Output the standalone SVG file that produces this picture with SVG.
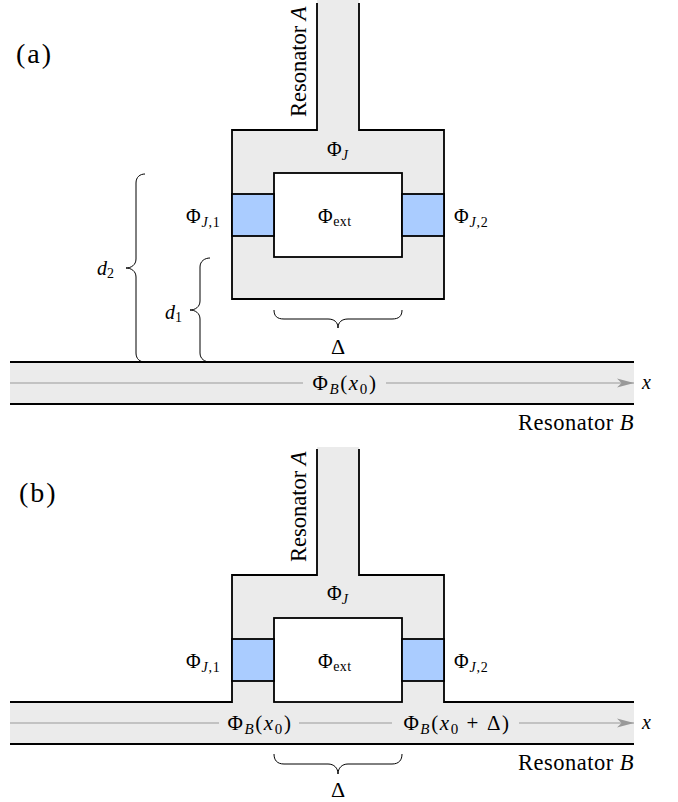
<svg xmlns="http://www.w3.org/2000/svg" width="678" height="802" viewBox="0 0 678 802">
<defs>
<style>
text{font-family:"Liberation Serif","DejaVu Serif",serif}
.t{font-size:20px;fill:#000}
.i{font-style:italic}
.s{font-size:14px}
.gray{fill:#ebebeb}
.ln{fill:none;stroke:#000;stroke-width:1.8}
.jj{fill:#aaccff;stroke:#000;stroke-width:1.8}
.wh{fill:#fff;stroke:#000;stroke-width:1.8}
.br{fill:none;stroke:#000;stroke-width:1}
.ax{stroke:#999;stroke-width:1.1;fill:none}
.big{font-size:28px;letter-spacing:2px}
.res{font-size:22.5px;letter-spacing:0.5px}
.fb{font-size:21px;letter-spacing:1.6px}
.fbs{font-size:15px}
.dl{font-size:22px}
</style>
<marker id="arr" markerUnits="userSpaceOnUse" viewBox="-18 -6 20 12" refX="0" refY="0" markerWidth="20" markerHeight="12" orient="auto">
<path d="M0,0 L-17,-4.5 L-12.5,0 L-17,4.5 Z" fill="#999"/>
</marker>
</defs>

<!-- Panel (a) -->
<g id="panel-a">
<g id="a-strip-B">
<rect class="gray" x="10" y="362" width="624" height="42"/>
<line class="ln" x1="10" y1="362" x2="634" y2="362"/>
<line class="ln" x1="10" y1="404" x2="634" y2="404"/>
</g>
<g id="a-resonator-A">
<path class="gray" d="M317,0 L359,0 L359,131 L317,131 Z"/>
<path class="gray" stroke="#000" stroke-width="1.8" d="M317,3 L317,130 L232,130 L232,299 L444,299 L444,130 L359,130 L359,3"/>
<text class="t res" style="letter-spacing:0" transform="translate(306,117) rotate(-90)">Resonator <tspan class="i">A</tspan></text>
</g>
<g id="a-loop">
<rect class="wh" x="274" y="173" width="128" height="84"/>
<rect class="jj" x="232" y="194" width="42" height="42"/>
<rect class="jj" x="402" y="194" width="42" height="42"/>
</g>
<g id="a-labels">
<text class="t" x="327" y="156">Φ<tspan class="s i" dy="4">J</tspan></text>
<text class="t" x="318" y="223" style="letter-spacing:0.5px">Φ<tspan class="s" dy="3">ext</tspan></text>
<text class="t" x="186" y="223" style="letter-spacing:0.8px">Φ<tspan class="s" dy="4"><tspan class="i">J</tspan>,1</tspan></text>
<text class="t" x="454" y="223" style="letter-spacing:0.8px">Φ<tspan class="s" dy="4"><tspan class="i">J</tspan>,2</tspan></text>
<text class="t big" x="16" y="63">(a)</text>
<text class="t" x="97" y="275"><tspan class="i">d</tspan><tspan class="s" dy="3">2</tspan></text>
<text class="t" x="165" y="319"><tspan class="i">d</tspan><tspan class="s" dy="3">1</tspan></text>
<text class="t dl" x="338" y="354" text-anchor="middle">Δ</text>
<text class="t res" x="634" y="430" text-anchor="end">Resonator <tspan class="i">B</tspan></text>
</g>
</g>

<!-- Panel (b) -->
<g id="panel-b">
<g id="b-strip-B">
<path class="gray" d="M317,447 L359,447 L359,575 L444,575 L444,702 L634,702 L634,744 L10,744 L10,702 L232,702 L232,575 L317,575 Z"/>
<path class="ln" d="M10,702 L232,702 L232,575 L317,575 L317,449"/>
<path class="ln" d="M634,702 L444,702 L444,575 L359,575 L359,449"/>
<line class="ln" x1="10" y1="744" x2="634" y2="744"/>
</g>
<g id="b-loop">
<rect class="wh" x="274" y="618" width="128" height="84"/>
<rect class="jj" x="232" y="639" width="42" height="42"/>
<rect class="jj" x="402" y="639" width="42" height="42"/>
</g>
<g id="b-labels">
<text class="t res" style="letter-spacing:0" transform="translate(306,562) rotate(-90)">Resonator <tspan class="i">A</tspan></text>
<text class="t" x="327" y="600">Φ<tspan class="s i" dy="4">J</tspan></text>
<text class="t" x="318" y="668" style="letter-spacing:0.5px">Φ<tspan class="s" dy="3">ext</tspan></text>
<text class="t" x="186" y="668" style="letter-spacing:0.8px">Φ<tspan class="s" dy="4"><tspan class="i">J</tspan>,1</tspan></text>
<text class="t" x="454" y="668" style="letter-spacing:0.8px">Φ<tspan class="s" dy="4"><tspan class="i">J</tspan>,2</tspan></text>
<text class="t big" x="19" y="502">(b)</text>
<text class="t dl" x="338" y="797" text-anchor="middle">Δ</text>
<text class="t res" x="634" y="770" text-anchor="end">Resonator <tspan class="i">B</tspan></text>
</g>
</g>

<!-- Connectors: axes and braces -->
<g id="connectors">
<line class="ax" x1="10" y1="383" x2="634" y2="383" marker-end="url(#arr)"/>
<line class="ax" x1="10" y1="723" x2="634" y2="723" marker-end="url(#arr)"/>
<path id="brace-d2" class="br" d="M145,174 C140,174 136,177 136,183 L136,259 C136,265 131,268 126,268 C131,268 136,271 136,277 L136,353 C136,359 140,362 145,362"/>
<path id="brace-d1" class="br" d="M210,258 C205,258 200,261 200,267 L200,301 C200,307 195,310 190,310 C195,310 200,313 200,319 L200,353 C200,359 205,362 210,362"/>
<path id="brace-delta-a" class="br" d="M274,310 C274,316 277,319 284,319 L328,319 C334,319 338,322 338,328 C338,322 342,319 348,319 L392,319 C399,319 402,316 402,310"/>
<path id="brace-delta-b" class="br" d="M274,754 C274,760 277,764 284,764 L328,764 C334,764 338,768 338,774 C338,768 342,764 348,764 L392,764 C399,764 402,760 402,754"/>
</g>

<g id="axis-labels">
<rect class="gray" x="303" y="370" width="83" height="26"/>
<text class="t fb" x="345" y="390" text-anchor="middle">Φ<tspan class="fbs i" dy="4">B</tspan><tspan dy="-4">(</tspan><tspan class="i">x</tspan><tspan class="fbs" dy="4">0</tspan><tspan dy="-4">)</tspan></text>
<text class="t i" x="642" y="389">x</text>
<rect class="gray" x="219" y="710" width="80" height="26"/>
<text class="t fb" x="260" y="730" text-anchor="middle">Φ<tspan class="fbs i" dy="4">B</tspan><tspan dy="-4">(</tspan><tspan class="i">x</tspan><tspan class="fbs" dy="4">0</tspan><tspan dy="-4">)</tspan></text>
<rect class="gray" x="392" y="710" width="127" height="26"/>
<text class="t fb" x="457" y="730" text-anchor="middle">Φ<tspan class="fbs i" dy="4">B</tspan><tspan dy="-4">(</tspan><tspan class="i">x</tspan><tspan class="fbs" dy="4">0</tspan><tspan dy="-4"> + Δ)</tspan></text>
<text class="t i" x="642" y="729">x</text>
</g>
</svg>
